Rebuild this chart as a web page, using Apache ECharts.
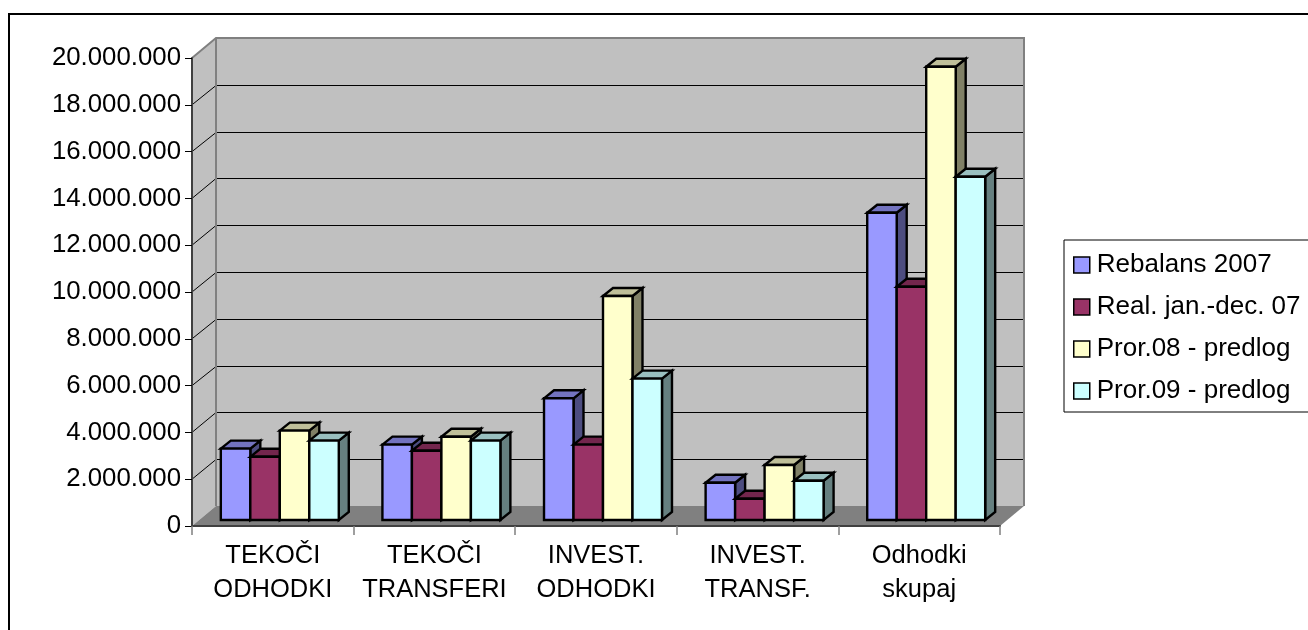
<!DOCTYPE html>
<html>
<head>
<meta charset="utf-8">
<style>html,body{margin:0;padding:0;background:#fff}#c{width:1308px;height:630px}</style>
<script src="https://cdn.jsdelivr.net/npm/echarts@6/dist/echarts.min.js"></script>
</head>
<body>
<div id="c"></div>
<script>
const categories = ['TEKOČI\nODHODKI', 'TEKOČI\nTRANSFERI', 'INVEST.\nODHODKI', 'INVEST.\nTRANSF.', 'Odhodki\nskupaj'];
const seriesNames = ['Rebalans 2007', 'Real. jan.-dec. 07', 'Pror.08 - predlog', 'Pror.09 - predlog'];
const rebalans2007 = [3050000, 3220000, 5200000, 1590000, 13130000];
const realJanDec07 = [2700000, 2960000, 3220000, 910000, 9970000];
const pror08 = [3820000, 3560000, 9570000, 2350000, 19370000];
const pror09 = [3390000, 3390000, 6040000, 1680000, 14670000];
const yTicks = [0, 2000000, 4000000, 6000000, 8000000, 10000000, 12000000, 14000000, 16000000, 18000000, 20000000];
const allValues = [rebalans2007, realJanDec07, pror08, pror09];
const colors = [[ '#9999FF', '#7373BF', '#4D4D80' ], [ '#993366', '#73264D', '#4D1A33' ], [ '#FFFFCC', '#BFBF99', '#808066' ], [ '#CCFFFF', '#99BFBF', '#668080' ]];
const FONT = '"Liberation Sans", Arial, sans-serif';
const WALL_DX = 24, WALL_DY = 20, BAR_OFF_X = 7, BAR_OFF_Y = 6, BAR_DX = 10, BAR_DY = 8, BAR_FRAC = 0.1825;

function poly(points, fill, stroke, lw) {
  return { type: 'polygon', shape: { points }, style: { fill, stroke: stroke || 'none', lineWidth: lw || 0, lineJoin: 'miter' } };
}
function renderWalls(params, api) {
  const bw = api.size([1, 0])[0];
  const x0 = api.coord([0, 0])[0] - bw / 2;
  const x1 = api.coord([categories.length - 1, 0])[0] + bw / 2;
  const yb = api.coord([0, yTicks[0]])[1];
  const yt = api.coord([0, yTicks[yTicks.length - 1]])[1];
  const children = [
    poly([[x0 + WALL_DX, yt - WALL_DY], [x1 + WALL_DX, yt - WALL_DY], [x1 + WALL_DX, yb - WALL_DY], [x0 + WALL_DX, yb - WALL_DY]], '#C0C0C0'),
    poly([[x0, yt], [x0 + WALL_DX, yt - WALL_DY], [x0 + WALL_DX, yb - WALL_DY], [x0, yb]], '#C0C0C0'),
    poly([[x0, yb], [x1, yb], [x1 + WALL_DX, yb - WALL_DY], [x0 + WALL_DX, yb - WALL_DY]], '#808080')
  ];
  yTicks.slice(1, -1).forEach(v => {
    const y = api.coord([0, v])[1];
    const yBack = Math.round(y - WALL_DY) + 0.5;
    children.push({ type: 'polyline', shape: { points: [[x0, y], [x0 + WALL_DX, yBack], [x1 + WALL_DX, yBack]] }, style: { fill: 'none', stroke: '#000', lineWidth: 1 } });
  });
  children.push({ type: 'polyline', shape: { points: [[x0, yt], [x0 + WALL_DX, yt - WALL_DY], [x1 + WALL_DX, yt - WALL_DY], [x1 + WALL_DX, yb - WALL_DY]] }, style: { fill: 'none', stroke: '#808080', lineWidth: 2 } });
  children.push({ type: 'polyline', shape: { points: [[x0 + WALL_DX, yt - WALL_DY], [x0 + WALL_DX, yb - WALL_DY]] }, style: { fill: 'none', stroke: '#808080', lineWidth: 2 } });
  return { type: 'group', children };
}
function barRenderer(idx) {
  return function (params, api) {
    const cat = api.value(0), val = api.value(1);
    const top = api.coord([cat, val]);
    const base = api.coord([cat, 0]);
    const bw = api.size([1, 0])[0];
    const w = bw * BAR_FRAC;
    const l = top[0] + (idx - 2) * w + BAR_OFF_X;
    const r = l + w;
    const t = top[1] - BAR_OFF_Y;
    const b = base[1] - BAR_OFF_Y;
    const c = colors[idx];
    return { type: 'group', children: [
      poly([[r, t], [r + BAR_DX, t - BAR_DY], [r + BAR_DX, b - BAR_DY], [r, b]], c[2], '#000', 2.4),
      poly([[l, t], [l + BAR_DX, t - BAR_DY], [r + BAR_DX, t - BAR_DY], [r, t]], c[1], '#000', 2.4),
      poly([[l, t], [r, t], [r, b], [l, b]], c[0], '#000', 2.4)
    ] };
  };
}
const series = [{
  name: 'walls', type: 'custom', silent: true, clip: false, z: 1,
  renderItem: renderWalls, data: [[0, 0]], encode: { x: 0, y: 1 }
}];
seriesNames.forEach((name, i) => {
  series.push({
    name, type: 'custom', clip: false, z: 2, renderItem: barRenderer(i),
    itemStyle: { color: colors[i][0] }, encode: { x: 0, y: 1 },
    data: allValues[i].map((v, k) => [k, v])
  });
});
const chart = echarts.init(document.getElementById('c'), null, { renderer: 'canvas' });
chart.setOption({
  animation: false,
  backgroundColor: '#fff',
  textStyle: { fontFamily: FONT },
  graphic: [{ type: 'rect', z: -1, shape: { x: 9, y: 14, width: 1400, height: 700 }, style: { fill: '#fff', stroke: '#000', lineWidth: 2 } }],
  grid: { left: 192, top: 58, width: 808, height: 468, containLabel: false },
  xAxis: {
    type: 'category', data: categories, z: 5,
    axisLine: { show: true, lineStyle: { color: '#404040', width: 2 } },
    axisTick: { show: true, alignWithLabel: false, length: 9, lineStyle: { color: '#808080', width: 1.5 } },
    axisLabel: { color: '#000', fontSize: 25.5, lineHeight: 34, margin: 13, fontFamily: FONT, interval: 0 }
  },
  yAxis: {
    type: 'value', min: 0, max: 20000000, interval: 2000000, z: 5,
    axisLine: { show: true, lineStyle: { color: '#404040', width: 2 } },
    axisTick: { show: true, length: 7, lineStyle: { color: '#000', width: 1 } },
    splitLine: { show: false },
    axisLabel: {
      color: '#000', fontSize: 25.8, margin: 11, fontFamily: FONT, padding: [3, 0, 0, 0],
      formatter: v => String(v).replace(/\B(?=(\d{3})+$)/g, '.')
    }
  },
  legend: {
    orient: 'vertical', left: 1064, top: 240, padding: [5, 10, 1, 9], itemGap: 2,
    itemWidth: 16, itemHeight: 16, icon: 'rect', borderColor: '#000', borderWidth: 1, backgroundColor: '#fff',
    selectedMode: false,
    textStyle: { color: '#000', fontSize: 26, fontFamily: FONT, padding: [0, 0, 12, 2], lineHeight: 28 },
    data: seriesNames.map((name, i) => ({ name, itemStyle: { color: colors[i][0], borderColor: '#000', borderWidth: 1.5 } }))
  },
  series
});
</script>
</body>
</html>
